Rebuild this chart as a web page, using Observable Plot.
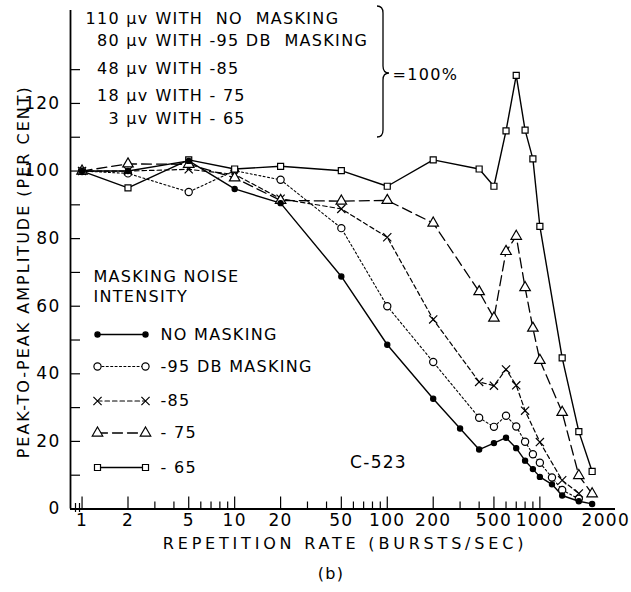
<!DOCTYPE html>
<html><head><meta charset="utf-8">
<script src="https://cdn.jsdelivr.net/npm/d3@7"></script>
<script src="https://cdn.jsdelivr.net/npm/@observablehq/plot@0.6"></script>
<style>
html,body{margin:0;padding:0;background:#fff;}
#chart svg text{letter-spacing:1.3px;}
</style></head><body><div id="chart"></div>
<script>
// ---- data ----
const noMaskRate = [1,2,5,10,20,50,100,200,300,400,500,600,700,800,900,1000,1200,1400,1800,2200];
const noMask     = [100,100,103,94.7,90.5,68.8,48.6,32.6,23.8,17.6,19.5,21.1,18,14.3,11.8,9.5,7.3,4,2.3,1.5];
const m95Rate = [1,2,5,10,20,50,100,200,400,500,600,700,800,900,1000,1200,1400,1800];
const m95     = [100,99.3,93.8,100.1,97.4,83.1,60,43.5,27,24.3,27.6,24.4,19.9,16.2,13.7,9.3,5.6,3];
const m85Rate = [1,2,5,10,20,50,100,200,400,500,600,700,800,1000,1400,1800];
const m85     = [100,100,100.5,99,91.8,88.8,80.4,56.1,37.6,36.5,41.3,36.6,29.1,19.8,8.5,4.6];
const m75Rate = [1,2,5,10,20,50,100,200,400,500,600,700,800,900,1000,1400,1800,2200];
const m75     = [100,102.1,102,98,91.3,91.1,91.3,84.6,64.3,56.5,76.2,80.7,65.5,53.5,44,28.6,9.9,4.5];
const m65Rate = [1,2,5,10,20,50,100,200,400,500,600,700,800,900,1000,1400,1800,2200];
const m65     = [100,95,103.3,100.6,101.4,100.1,95.5,103.3,100.6,95.5,111.9,128.3,112.1,103.6,83.6,44.7,22.9,11.1];

const xTickMajor = [1,2,5,10,20,50,100,200,500,1000];
const xTickMinor = [3,4,6,7,8,9,30,40,60,70,80,90,300,400,600,700,800,900];
const xTickLabels = [1,2,5,10,20,50,100,200,500,1000];
const xLastLabel = [2000];
const yTicks = [10,20,30,40,50,60,70,80,90,100,110,120,130];
const yTickLabels = [0,20,40,60,80,100,120];
const headerNums = ["110 \u03bcv","80 \u03bcv","48 \u03bcv","18 \u03bcv","3 \u03bcv"];
const headerRest = ["WITH  NO  MASKING","WITH -95 DB  MASKING","WITH -85","WITH - 75","WITH - 65"];
const legendTitle = ["MASKING NOISE","INTENSITY"];
const legendLabels = ["NO MASKING","-95 DB MASKING","-85","- 75","- 65"];
const yTitle = "PEAK-TO-PEAK AMPLITUDE (PER CENT)";
const xTitle = "REPETITION RATE (BURSTS/SEC)";

// ---- layout ----
const W = 631, H = 592;
const xDomain = [0.84, 3130], yDomain = [0, 147.5];
const xRange = [70, 615], yRange = [508.5, 10];
const lx = Math.log10;
const px = p => 10 ** (lx(xDomain[0]) + (p - xRange[0]) / (xRange[1] - xRange[0]) * (lx(xDomain[1]) - lx(xDomain[0])));
const py = p => yDomain[0] + (yRange[0] - p) / (yRange[0] - yRange[1]) * (yDomain[1] - yDomain[0]);

const styles = [
  {dash: null,     symbol: "circle",   fill: "black", r: 2.6, sw: 1.4},
  {dash: "2,2.4",  symbol: "circle",   fill: "white", r: 3.6, sw: 1.1},
  {dash: "4.5,3",  symbol: "times",    fill: "none",  r: 3.8, sw: 1.2},
  {dash: "10,5",   symbol: "triangle", fill: "white", r: 3.9, sw: 1.3},
  {dash: null,     symbol: "square",   fill: "white", r: 3.4, sw: 1.4}
];
const seriesData = [[noMaskRate,noMask],[m95Rate,m95],[m85Rate,m85],[m75Rate,m75],[m65Rate,m65]]
  .map(([r,v]) => r.map((d,i) => ({rate: d, value: v[i]})));

const legendY = [334, 366, 400.5, 432.5, 467];
const legendRows = legendY.map(y => [{x: px(97), y: py(y)}, {x: px(145), y: py(y)}]);
const headerY = [18.3, 40.5, 68.5, 95, 118.5];

const lineMarks = [], dotMarks = [], filledMarks = [];
styles.forEach((s, i) => {
  const lineOpts = {stroke: "black", strokeWidth: s.sw, strokeDasharray: s.dash};
  lineMarks.push(Plot.line(seriesData[i], {x: "rate", y: "value", ...lineOpts}));
  lineMarks.push(Plot.line(legendRows[i], {x: "x", y: "y", ...lineOpts}));
  const dotOpts = {symbol: s.symbol, r: s.r, fill: s.fill, stroke: "black", strokeWidth: 1.2};
  const target = s.fill === "black" ? filledMarks : dotMarks;
  target.push(Plot.dot(seriesData[i], {x: "rate", y: "value", ...dotOpts}));
  target.push(Plot.dot(legendRows[i], {x: "x", y: "y", ...dotOpts}));
});

const chart = Plot.plot({
  width: W, height: H,
  marginLeft: 70, marginRight: 16, marginTop: 10, marginBottom: 83.5,
  style: {fontFamily: "DejaVu Sans", fontSize: "16px", background: "white", color: "black"},
  x: {type: "log", domain: xDomain, range: xRange, axis: null},
  y: {domain: yDomain, range: yRange, axis: null},
  marks: [
    Plot.ruleY([0], {stroke: "black", strokeWidth: 1.8}),
    Plot.ruleX([xDomain[0]], {stroke: "black", strokeWidth: 1.8}),
    Plot.ruleX(xTickMajor, {y1: 0, y2: py(508.5 - 12), stroke: "black", strokeWidth: 1.2}),
    Plot.ruleX(xTickMinor, {y1: 0, y2: py(508.5 - 7), stroke: "black", strokeWidth: 1.2}),
    Plot.ruleY(yTicks, {x1: xDomain[0], x2: px(80), stroke: "black", strokeWidth: 1.2}),
    Plot.ruleX([px(75), px(79)], {y1: py(512), y2: py(503), stroke: "black", strokeWidth: 1.2}),
    Plot.text(xTickLabels, {x: d => d, frameAnchor: "bottom", text: d => String(d), dy: 5, lineAnchor: "top", fontSize: 17}),
    Plot.text(xLastLabel, {x: d => d, frameAnchor: "bottom", text: d => String(d), dx: 20, dy: 5, lineAnchor: "top", fontSize: 17}),
    Plot.text(yTickLabels, {y: d => d, frameAnchor: "left", text: d => String(d), dx: -10, textAnchor: "end", fontSize: 17}),
    Plot.text([yTitle], {frameAnchor: "left", rotate: -90, textAnchor: "middle", dx: -47, dy: 12, fontSize: 16}),
    Plot.text([xTitle], {frameAnchor: "bottom", textAnchor: "middle", dx: 2, dy: 40, fontSize: 16}),
    Plot.text(["(b)"], {frameAnchor: "bottom", dx: -12, dy: 70, fontSize: 16}),
    Plot.text(headerNums, {x: px(148), y: (d, i) => py(headerY[i]), text: d => d, textAnchor: "end", fontSize: 16}),
    Plot.text(headerRest, {x: px(155), y: (d, i) => py(headerY[i]), text: d => d, textAnchor: "start", fontSize: 16}),
    Plot.text(["=100%"], {x: px(392), y: py(74), text: d => d, textAnchor: "start", fontSize: 16}),
    Plot.text(legendTitle, {x: px(93), y: (d, i) => py([276, 296][i]), text: d => d, textAnchor: "start", fontSize: 16}),
    Plot.text(legendLabels, {x: px(160), y: (d, i) => py(legendY[i]), text: d => d, textAnchor: "start", fontSize: 16}),
    Plot.text(["C-523"], {x: px(378), y: py(462), text: d => d, fontSize: 17}),
    ...lineMarks,
    ...dotMarks,
    ...filledMarks
  ]
});

// wider letter spacing on the two axis titles (inline style beats the sheet rule)
d3.select(chart).selectAll("text")
  .filter(function() { return this.textContent === yTitle; })
  .style("letter-spacing", "2px");
d3.select(chart).selectAll("text")
  .filter(function() { return this.textContent === xTitle; })
  .style("letter-spacing", "3.8px");

// brace annotation
d3.select(chart).append("path")
  .attr("d", "M377,6 Q383,6 383,13 L383,66 Q383,73 389,73 Q383,73 383,80 L383,130 Q383,137 377,137")
  .attr("fill", "none").attr("stroke", "black").attr("stroke-width", 1.3);

document.getElementById("chart").append(chart);
</script></body></html>
